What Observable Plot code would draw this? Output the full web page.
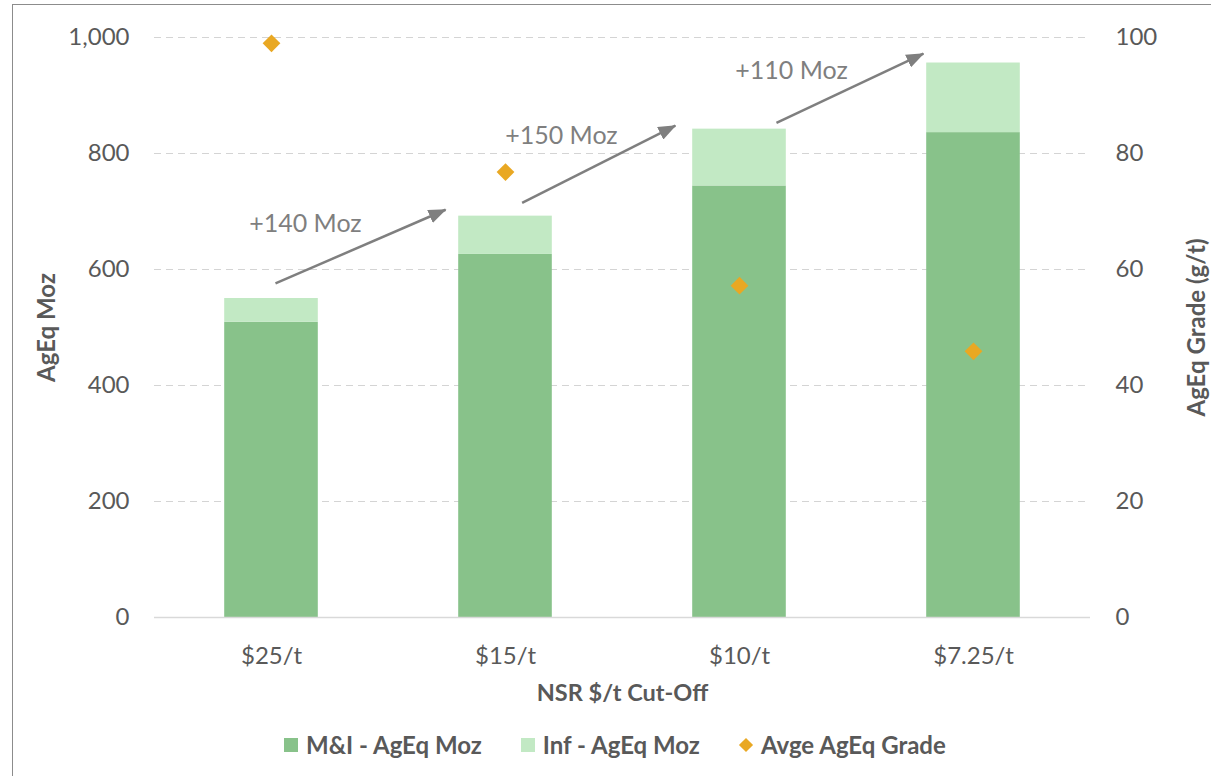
<!DOCTYPE html>
<html>
<head>
<meta charset="utf-8">
<script src="https://cdn.jsdelivr.net/npm/d3@7"></script>
<script src="https://cdn.jsdelivr.net/npm/@observablehq/plot@0.6"></script>
<style>
  html, body { margin: 0; padding: 0; background: #fff; }
  body { width: 1211px; height: 776px; position: relative; overflow: hidden; font-family: Lato, "Open Sans", sans-serif; }
  #frame { position: absolute; left: 12px; top: 4px; width: 1300px; height: 900px; border-left: 1.5px solid #8c8c8c; border-top: 1.5px solid #8c8c8c; }
  #chart { position: absolute; left: 0; top: 0; }
  #legend { position: absolute; top: 730px; left: 284px; display: flex; align-items: center; font-weight: bold; font-size: 24px; color: #595959; white-space: nowrap; }
  .item { display: flex; align-items: center; margin-right: 39px; }
  .sw { width: 14px; height: 14px; margin-right: 8px; }
  .dia { width: 10px; height: 10px; transform: rotate(45deg); margin: 0 10px 0 2px; }
</style>
</head>
<body>
<div id="frame"></div>
<div id="chart"></div>
<div id="legend"></div>
<script>
// ---- data ----
const categories = ["$25/t", "$15/t", "$10/t", "$7.25/t"];
const miMoz  = [509, 626, 744, 836];     // M&I - AgEq Moz
const infMoz = [41, 66, 98, 120];        // Inf - AgEq Moz
const grade  = [99.0, 76.8, 57.2, 45.9]; // Avge AgEq Grade (g/t)
const yTicks = [0, 200, 400, 600, 800, 1000];
const gradeTicks = [0, 20, 40, 60, 80, 100];
const seriesNames = ["M&I - AgEq Moz", "Inf - AgEq Moz", "Avge AgEq Grade"];
const seriesColors = ["#88c28a", "#c2e9c4", "#e9a823"];
// annotation arrows (x in category index units, y in Moz)
const annLabels = ["+140 Moz", "+150 Moz", "+110 Moz"];
const annX = [0.145, 1.239, 2.222];
const annY = [678, 831, 942];
const arrowX1 = [0.017, 1.071, 2.158];
const arrowY1 = [576, 715, 853];
const arrowX2 = [0.744, 1.726, 2.786];
const arrowY2 = [703, 848, 972];

const gradeFactor = 1000 / 100; // right axis 0-100 maps onto left 0-1000

const rows = categories.map((c, i) => ({i, cat: c, mi: miMoz[i], inf: infMoz[i], grade: grade[i]}));
const barHalf = 0.2;

const plot = Plot.plot({
  width: 1211,
  height: 720,
  marginLeft: 154,
  marginRight: 121,
  marginTop: 37,
  marginBottom: 103,
  x: {type: "linear", domain: [-0.5, 3.5]},
  y: {domain: [0, 1000]},
  style: {fontFamily: "Lato, 'Open Sans', sans-serif", fontSize: "24px", color: "#595959", background: "transparent"},
  marks: [
    Plot.gridY(yTicks.slice(1), {stroke: "#d4d4d4", strokeOpacity: 1, strokeDasharray: "7,5", strokeWidth: 1}),
    Plot.rectY(rows, {x1: d => d.i - barHalf, x2: d => d.i + barHalf, y1: 0, y2: d => d.mi, fill: seriesColors[0]}),
    Plot.rectY(rows, {x1: d => d.i - barHalf, x2: d => d.i + barHalf, y1: d => d.mi, y2: d => d.mi + d.inf, fill: seriesColors[1]}),
    Plot.ruleY([0], {stroke: "#d9d9d9", strokeWidth: 1.5}),
    Plot.axisX(rows.map(d => d.i), {tickFormat: i => categories[i], tickSize: 0, tickPadding: 29, label: null, fontSize: 24}),
    Plot.axisY(yTicks, {anchor: "left", tickFormat: d3.format(","), tickSize: 0, tickPadding: 25, label: null, fontSize: 24}),
    Plot.axisY(gradeTicks.map(g => g * gradeFactor), {anchor: "right", tickFormat: d => d / gradeFactor, tickSize: 0, tickPadding: 25, label: null, fontSize: 24}),
    Plot.dot(rows, {x: "i", y: d => d.grade * gradeFactor, symbol: "diamond2", r: 8, fill: seriesColors[2], stroke: null}),
    Plot.link(annLabels, {x1: arrowX1, y1: arrowY1, x2: arrowX2, y2: arrowY2, stroke: "#7f7f7f", strokeWidth: 2.5, className: "trend-arrow"}),
    Plot.text(annLabels, {x: annX, y: annY, text: d => d, fill: "#7f7f7f", fontSize: 25}),
    Plot.text(["NSR $/t Cut-Off"], {frameAnchor: "bottom", dy: 76, textAnchor: "middle", lineAnchor: "middle", fontWeight: "bold", fontSize: 23.5, fill: "#595959"}),
    Plot.text(["AgEq Moz"], {frameAnchor: "left", dx: -107, rotate: -90, textAnchor: "middle", lineAnchor: "middle", fontWeight: "bold", fontSize: 24, fill: "#595959"}),
    Plot.text(["AgEq Grade (g/t)"], {frameAnchor: "right", dx: 107, rotate: -90, textAnchor: "middle", lineAnchor: "middle", fontWeight: "bold", fontSize: 24, fill: "#595959"})
  ]
});

// filled triangle arrowheads
const svg = d3.select(plot);
svg.insert("defs", ":first-child")
  .append("marker")
  .attr("id", "trendHead")
  .attr("markerUnits", "userSpaceOnUse")
  .attr("viewBox", "0 -7 18 14")
  .attr("markerWidth", 18)
  .attr("markerHeight", 14)
  .attr("refX", 17)
  .attr("refY", 0)
  .attr("orient", "auto")
  .append("path")
  .attr("d", "M0,-7L18,0L0,7Z")
  .attr("fill", "#7f7f7f");
svg.selectAll(".trend-arrow path, path.trend-arrow, g.trend-arrow path").attr("marker-end", "url(#trendHead)");
svg.selectAll("[aria-label=link] path").attr("marker-end", "url(#trendHead)");

document.getElementById("chart").appendChild(plot);

// legend
const legend = d3.select("#legend");
seriesNames.forEach((name, k) => {
  const it = legend.append("div").attr("class", "item");
  it.append("div").attr("class", k === 2 ? "dia" : "sw").style("background", seriesColors[k]);
  it.append("span").text(name);
});
</script>
</body>
</html>
